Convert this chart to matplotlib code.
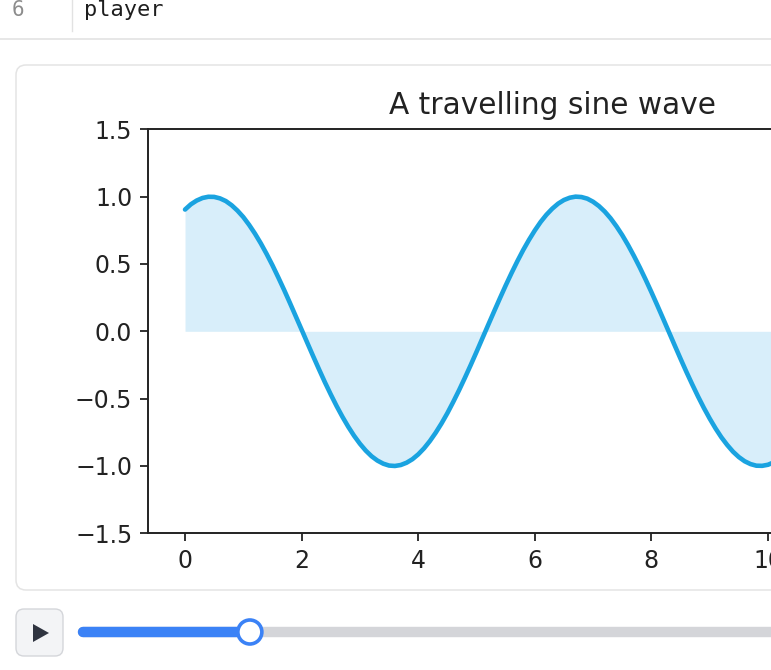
import matplotlib
matplotlib.use("Agg")
import numpy as np
import matplotlib.pyplot as plt
from matplotlib.patches import FancyBboxPatch, Circle, Polygon

# sample grid of the frame shown (0 .. 12.6, step 0.1)
x_vals = np.round(np.arange(0, 12.65, 0.1), 1)
# wave heights
y_vals = [0.904, 0.943, 0.971, 0.990, 0.999, 0.998, 0.987, 0.967, 0.936, 0.896,
          0.848, 0.790, 0.725, 0.653, 0.574, 0.490, 0.400, 0.307, 0.210, 0.111,
          0.012, -0.088, -0.187, -0.284, -0.379, -0.469, -0.555, -0.635, -0.709, -0.776,
          -0.835, -0.886, -0.928, -0.960, -0.983, -0.997, -1.000, -0.993, -0.976, -0.950,
          -0.914, -0.869, -0.815, -0.753, -0.684, -0.608, -0.525, -0.438, -0.346, -0.251,
          -0.153, -0.053, 0.047, 0.146, 0.244, 0.340, 0.432, 0.520, 0.603, 0.679,
          0.749, 0.812, 0.866, 0.911, 0.948, 0.975, 0.992, 1.000, 0.997, 0.985,
          0.962, 0.930, 0.889, 0.839, 0.780, 0.714, 0.640, 0.560, 0.475, 0.385,
          0.291, 0.194, 0.095, -0.005, -0.105, -0.204, -0.301, -0.394, -0.484, -0.569,
          -0.648, -0.721, -0.787, -0.844, -0.894, -0.934, -0.965, -0.986, -0.998, -0.999,
          -0.991, -0.973, -0.945, -0.907, -0.861, -0.805, -0.742, -0.672, -0.594, -0.511,
          -0.423, -0.330, -0.234, -0.136, -0.036, 0.064, 0.163, 0.261, 0.356, 0.447,
          0.534, 0.616, 0.692, 0.760, 0.821, 0.874, 0.918]
y_ticks = [-1.5, -1.0, -0.5, 0.0, 0.5, 1.0, 1.5]
x_ticks = [0, 2, 4, 6, 8, 10, 12]
title = "A travelling sine wave"
line_no = "6"
code_text = "player"
slider_frac = 0.248

W, H = 771, 670
fig = plt.figure(figsize=(W / 100, H / 100), dpi=100)
fig.patch.set_facecolor("white")

# notebook chrome, pixel coords
ui = fig.add_axes([0, 0, 1, 1], zorder=0)
ui.set_xlim(0, W)
ui.set_ylim(H, 0)
ui.axis("off")

ui.text(12, 10, line_no, fontsize=15, color="#8c8c8c", va="center", family="DejaVu Sans Mono")
ui.plot([72, 72], [0, 31], color="#e2e2e2", lw=1)
ui.text(84, 10, code_text, fontsize=15.8, color="#1e1e1e", va="center", family="DejaVu Sans Mono")
ui.plot([0, W], [38.5, 38.5], color="#e3e3e3", lw=1.2)

card = FancyBboxPatch((16, 65), 900, 525, boxstyle="round,pad=0,rounding_size=10",
                      fc="white", ec="#e4e4e4", lw=1.1)
ui.add_patch(card)

btn = FancyBboxPatch((16, 609), 47, 47, boxstyle="round,pad=0,rounding_size=8",
                     fc="#f3f4f6", ec="#d4d6da", lw=1)
ui.add_patch(btn)
ui.add_patch(Polygon([[33, 624], [33, 642], [49, 633]], closed=True, fc="#2f3440", ec="none"))

track_x0, track_x1 = 83, 900
ui.plot([track_x0, track_x1], [632, 632], color="#d4d5d9", lw=7.5, solid_capstyle="round")
knob_x = 78 + slider_frac * (W - 78)
ui.plot([track_x0, knob_x], [632, 632], color="#3b82f6", lw=7.5, solid_capstyle="round")
ui.add_patch(Circle((knob_x, 632), 12, fc="white", ec="#3b82f6", lw=2.6, zorder=5))

# chart
ax = fig.add_axes([148.3 / W, (H - 533.3) / H, 808 / W, 404 / H], zorder=1)
ax.patch.set_alpha(0)
ax.plot(x_vals, y_vals, color="#1aa3e0", lw=3.3, solid_capstyle="round", solid_joinstyle="round")
ax.fill_between(x_vals, y_vals, 0, color="#d8eefa", lw=0)
ax.set_ylim(-1.5, 1.5)
ax.set_yticks(y_ticks)
ax.set_xticks(x_ticks)
ax.set_title(title, fontsize=21.3, color="#222222", pad=11)
ax.tick_params(labelsize=17, length=6, width=1.3, pad=5.5, colors="#222222")
for s in ax.spines.values():
    s.set_linewidth(1.4)
    s.set_color("#222222")

fig.savefig("out.png", dpi=100)
